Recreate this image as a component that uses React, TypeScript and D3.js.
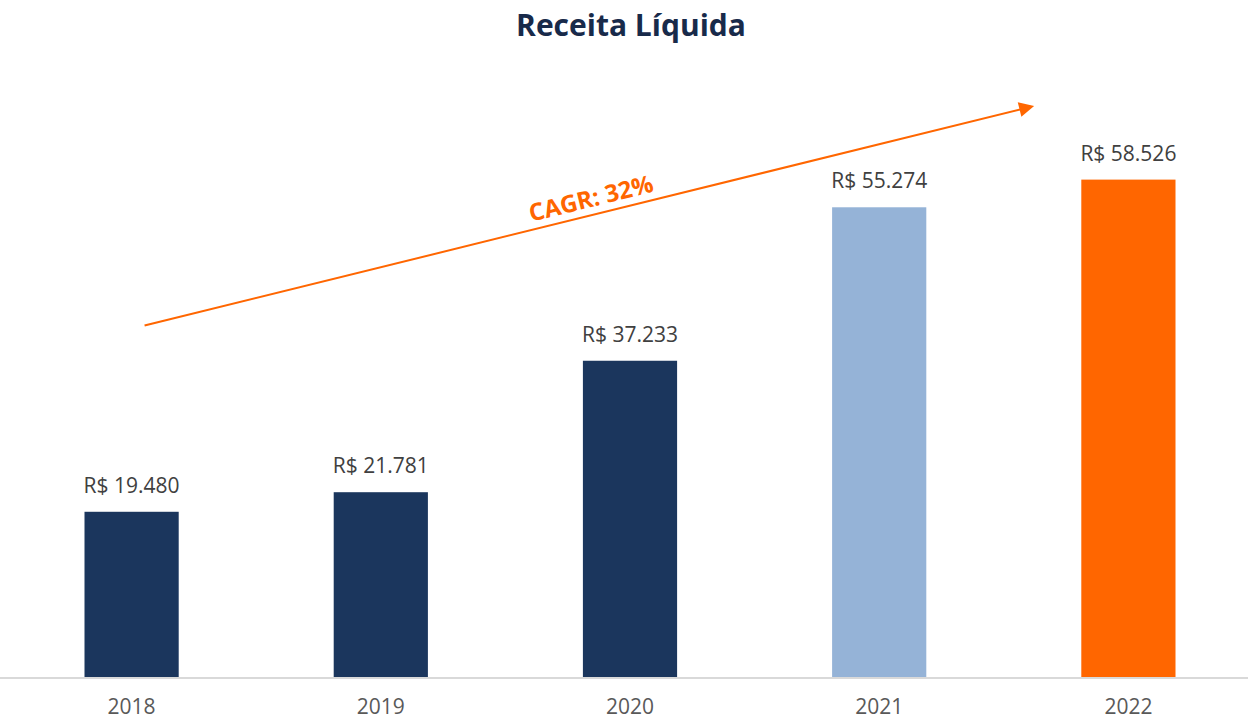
import React from "react";
import * as d3 from "d3";

const years = ["2018", "2019", "2020", "2021", "2022"];
const values = [19480, 21781, 37233, 55274, 58526];
const barColors = ["#1b365d", "#1b365d", "#1b365d", "#95b3d7", "#ff6600"];
const title = "Receita Líquida";
const cagrLabel = "CAGR: 32%";
// arrow annotation in data units: [category index position, value]
const arrowStart: [number, number] = [0.052, 41370];
const arrowEnd: [number, number] = [3.61, 67100];

const W = 1248;
const H = 720;
const FONT = "'Open Sans', 'Noto Sans', sans-serif";

export default function App() {
  const x = d3.scaleBand<string>().domain(years).range([7, 1253]).paddingInner(0.622).paddingOuter(0.311);
  const y = d3.scaleLinear().domain([0, 70000]).range([677.5, 82]);
  const xc = d3
    .scaleLinear()
    .domain([0, years.length - 1])
    .range([x(years[0])! + x.bandwidth() / 2, x(years[years.length - 1])! + x.bandwidth() / 2]);

  const ptBR = d3.formatLocale({ decimal: ",", thousands: ".", grouping: [3], currency: ["R$ ", ""] });
  const fmt = ptBR.format("$,.0f");

  const x1 = xc(arrowStart[0]);
  const y1 = y(arrowStart[1]);
  const x2 = xc(arrowEnd[0]);
  const y2 = y(arrowEnd[1]);
  const angle = (Math.atan2(y2 - y1, x2 - x1) * 180) / Math.PI;
  const t = 0.508;
  const lx = x1 + (x2 - x1) * t;
  const ly = y1 + (y2 - y1) * t;

  return (
    <svg
      width={W}
      height={H}
      style={{ position: "absolute", left: 0, top: 0, background: "#fff" }}
      fontFamily={FONT}
    >
      <defs>
        <marker id="arrowhead2" viewBox="0 0 10 10" refX="8" refY="5" markerWidth="20" markerHeight="15" orient="auto" markerUnits="userSpaceOnUse">
          <path d="M0,0 L10,5 L0,10 Z" fill="#ff6600" />
        </marker>
      </defs>
      <text x={631} y={36} textAnchor="middle" fontSize={30} fontWeight={700} fill="#182a4a">
        {title}
      </text>
      {years.map((yr, i) => (
        <g key={yr}>
          <rect x={x(yr)} y={y(values[i])} width={x.bandwidth()} height={y(0) - y(values[i])} fill={barColors[i]} />
          <text
            x={x(yr)! + x.bandwidth() / 2}
            y={y(values[i]) - 19}
            textAnchor="middle"
            fontSize={21}
            fill="#404040"
          >
            {fmt(values[i])}
          </text>
          <text x={x(yr)! + x.bandwidth() / 2} y={714} textAnchor="middle" fontSize={21} fill="#595959">
            {yr}
          </text>
        </g>
      ))}
      <line x1={0} x2={W} y1={y(0) + 0.5} y2={y(0) + 0.5} stroke="#d9d9d9" strokeWidth={2} />
      <line x1={x1} y1={y1} x2={x2} y2={y2} stroke="#ff6600" strokeWidth={2} markerEnd="url(#arrowhead2)" />
      <text
        transform={`translate(${lx},${ly}) rotate(${angle})`}
        y={-8}
        textAnchor="middle"
        fontSize={24}
        fontWeight={700}
        fill="#ff6600"
      >
        {cagrLabel}
      </text>
    </svg>
  );
}
